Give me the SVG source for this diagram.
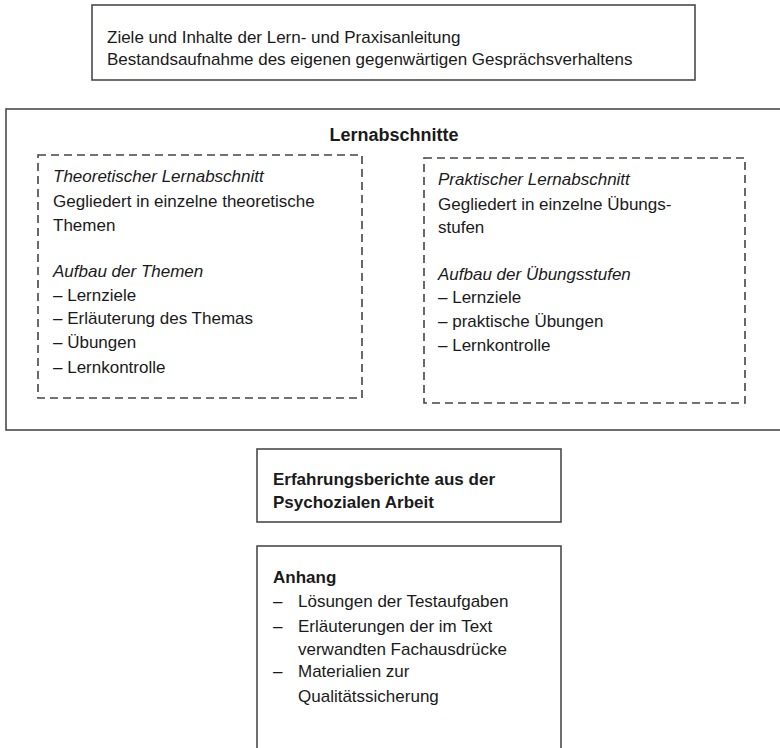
<svg xmlns="http://www.w3.org/2000/svg" width="780" height="748" viewBox="0 0 780 748">
<style>
.box{fill:none;stroke:#4a4a4a;stroke-width:1.6}
.dash{fill:none;stroke:#444;stroke-width:1.6;stroke-dasharray:8 5}
text{font-family:"Liberation Sans",Arial,sans-serif;font-size:17px;fill:#1a1a1a}
.b{font-weight:bold}
.i{font-style:italic}
.h{font-size:18px;font-weight:bold}
</style>
<rect width="780" height="748" fill="#ffffff"/>
<g id="connectors"></g>
<g id="ziele">
<rect class="box" x="92" y="5" width="603" height="75"/>
<text x="107" y="43">Ziele und Inhalte der Lern- und Praxisanleitung</text>
<text x="107" y="65">Bestandsaufnahme des eigenen gegenwärtigen Gesprächsverhaltens</text>
</g>
<g id="lernabschnitte">
<rect class="box" x="6" y="109" width="780" height="321"/>
<text class="h" x="394" y="141" text-anchor="middle">Lernabschnitte</text>
</g>
<g id="theoretisch">
<rect class="dash" x="38" y="155" width="324" height="243"/>
<text class="i" x="53" y="182">Theoretischer Lernabschnitt</text>
<text x="53" y="207">Gegliedert in einzelne theoretische</text>
<text x="53" y="231">Themen</text>
<text class="i" x="53" y="277">Aufbau der Themen</text>
<text x="53" y="301">– Lernziele</text>
<text x="53" y="324">– Erläuterung des Themas</text>
<text x="53" y="348">– Übungen</text>
<text x="53" y="373">– Lernkontrolle</text>
</g>
<g id="praktisch">
<rect class="dash" x="424" y="158" width="321" height="245"/>
<text class="i" x="438" y="185">Praktischer Lernabschnitt</text>
<text x="438" y="210">Gegliedert in einzelne Übungs-</text>
<text x="438" y="233">stufen</text>
<text class="i" x="438" y="280">Aufbau der Übungsstufen</text>
<text x="438" y="303">– Lernziele</text>
<text x="438" y="327">– praktische Übungen</text>
<text x="438" y="351">– Lernkontrolle</text>
</g>
<g id="erfahrungsberichte">
<rect class="box" x="257" y="449" width="304" height="73"/>
<text class="b" x="273" y="485">Erfahrungsberichte aus der</text>
<text class="b" x="273" y="508">Psychozialen Arbeit</text>
</g>
<g id="anhang">
<rect class="box" x="257" y="546" width="304" height="220"/>
<text class="b" x="273" y="583">Anhang</text>
<text x="273" y="607">–</text>
<text x="298" y="607">Lösungen der Testaufgaben</text>
<text x="273" y="632">–</text>
<text x="298" y="632">Erläuterungen der im Text</text>
<text x="298" y="655">verwandten Fachausdrücke</text>
<text x="273" y="677">–</text>
<text x="298" y="677">Materialien zur</text>
<text x="298" y="702">Qualitätssicherung</text>
</g>
</svg>
